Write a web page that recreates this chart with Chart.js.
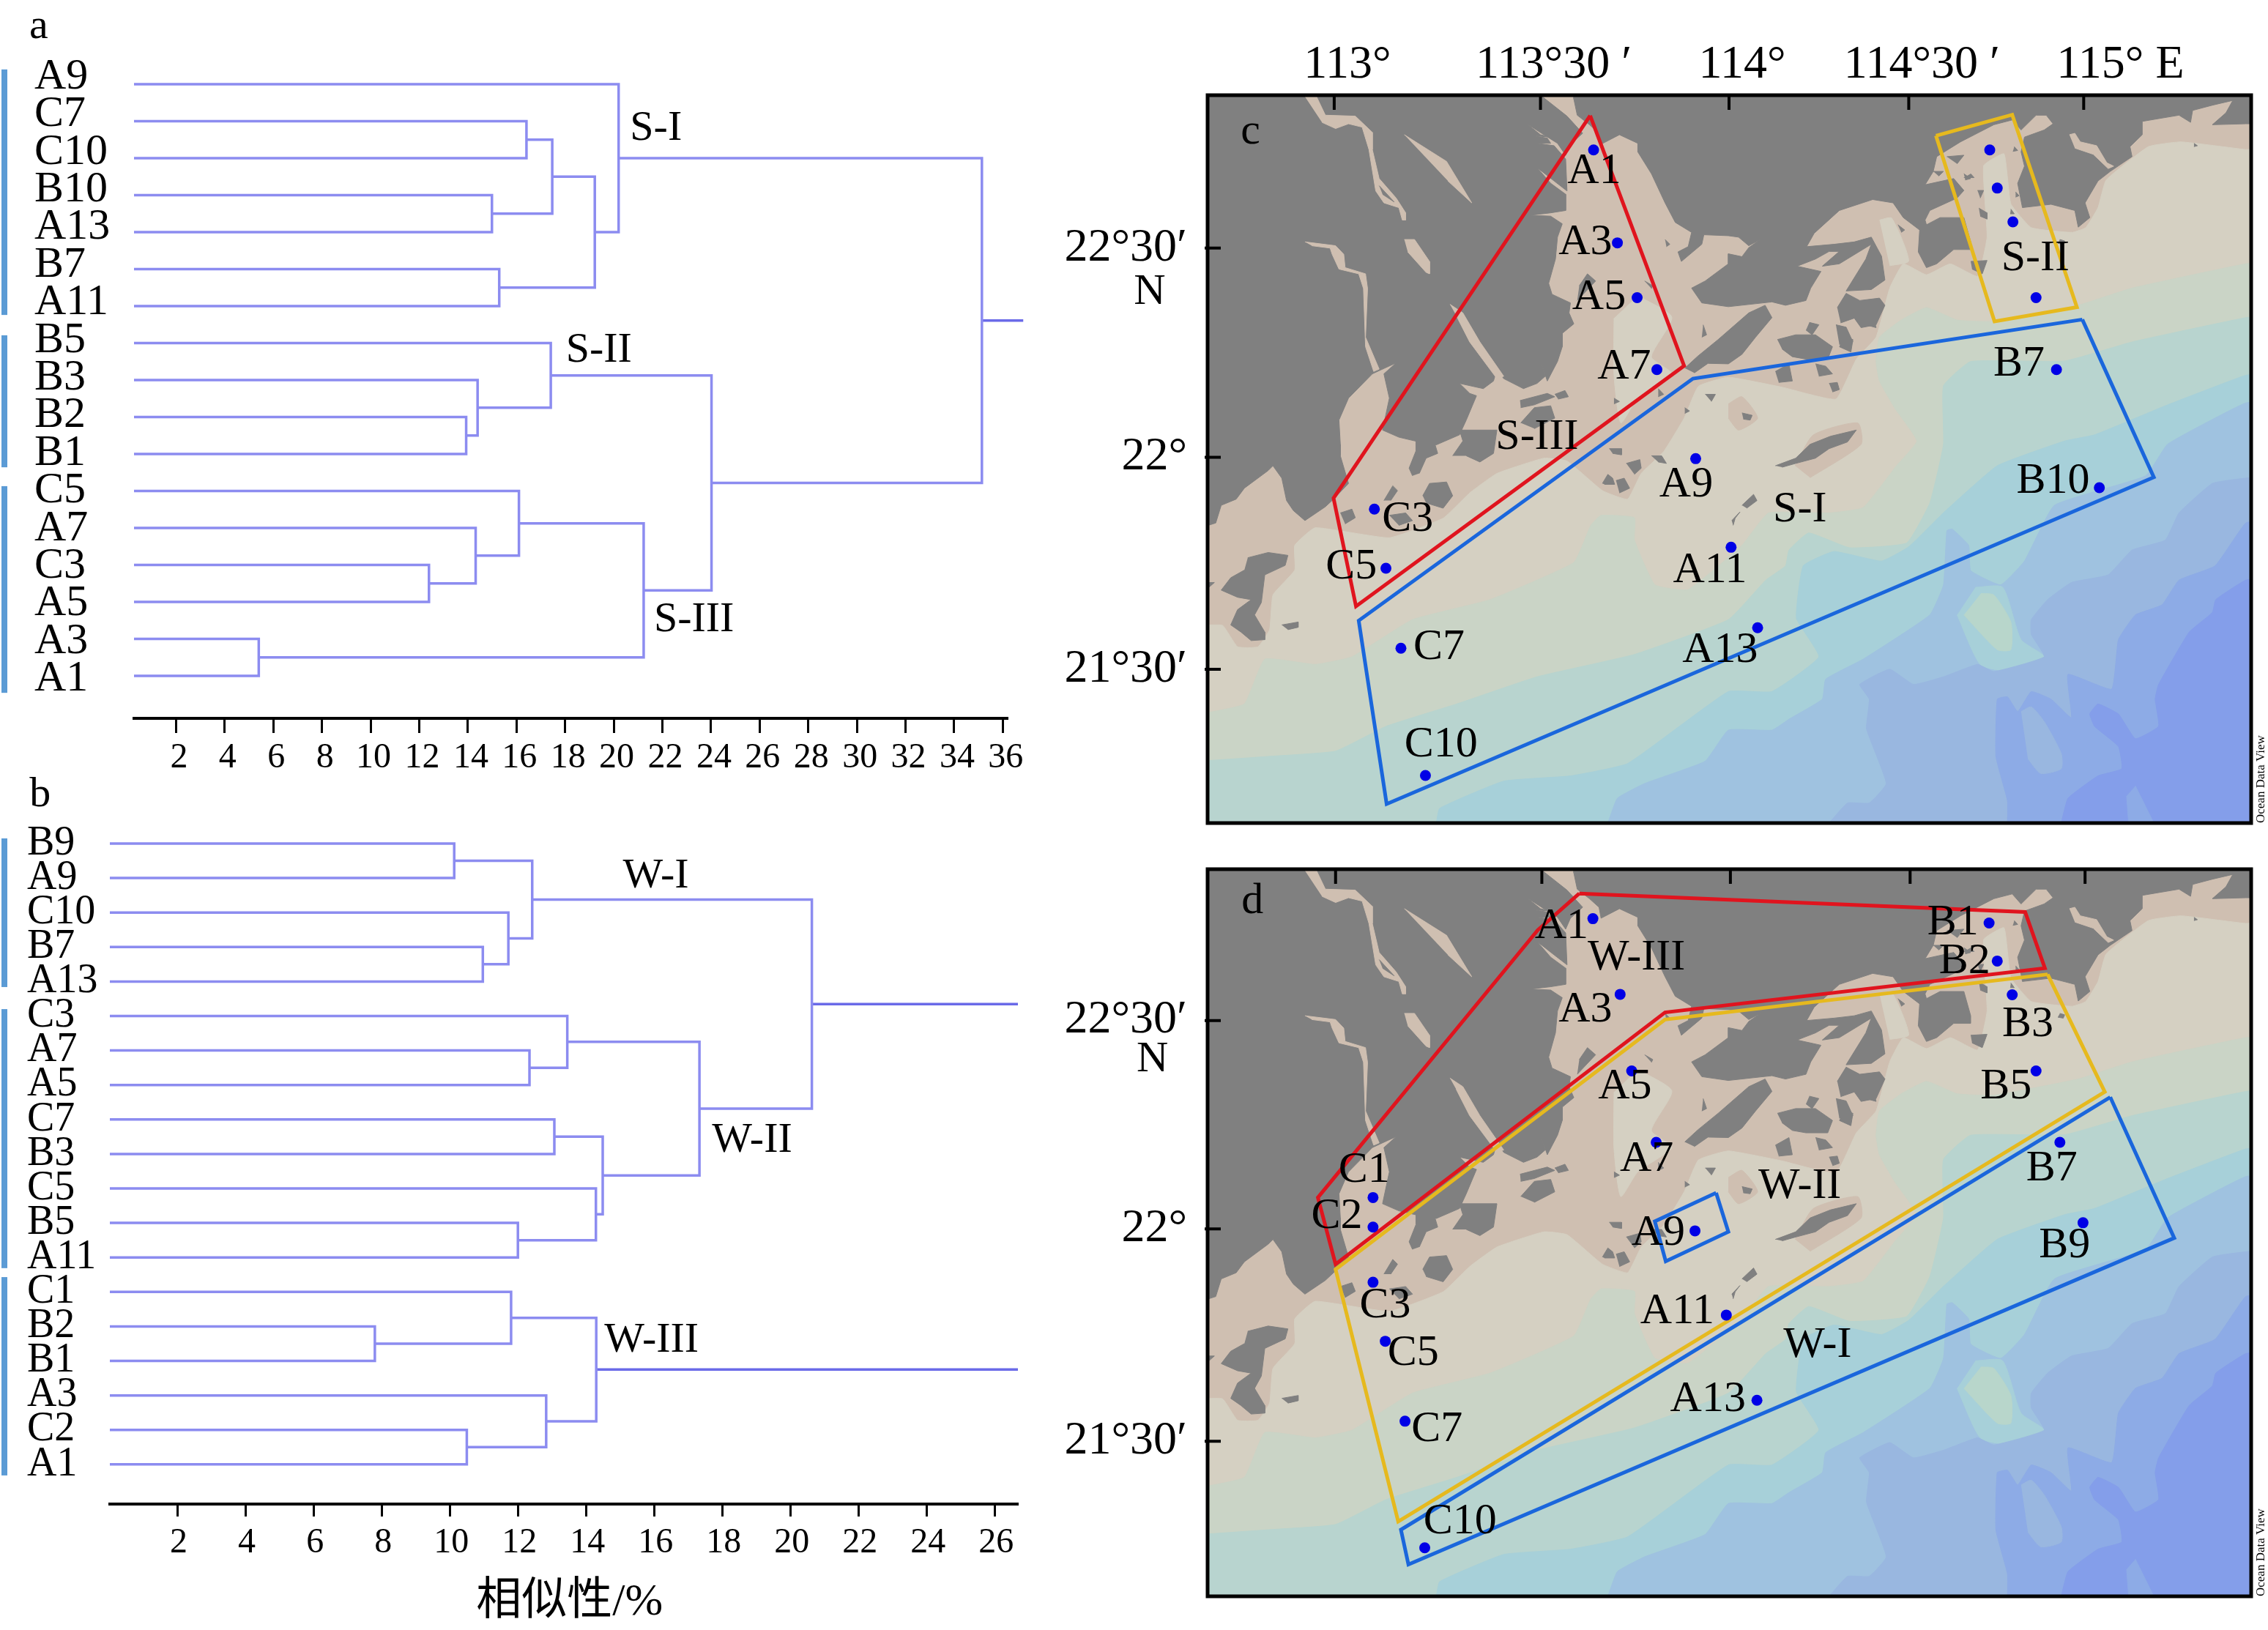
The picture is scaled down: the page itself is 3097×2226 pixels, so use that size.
<!DOCTYPE html>
<html>
<head>
<meta charset="utf-8">
<title>Cluster dendrograms and station maps</title>
<script src="https://cdn.jsdelivr.net/npm/chart.js@4/dist/chart.umd.min.js"></script>
<style>
  html, body { margin: 0; padding: 0; background: #fff; }
  #page { position: relative; width: 3097px; height: 2226px; overflow: hidden; }
  canvas { position: absolute; display: block; }
</style>
</head>
<body>
<div id="page">
  <canvas id="dendroA" width="1440" height="1060" style="left:0;top:0;width:1440px;height:1060px"></canvas>
  <canvas id="dendroB" width="1440" height="1166" style="left:0;top:1060px;width:1440px;height:1166px"></canvas>
  <canvas id="mapC" width="1657" height="1160" style="left:1440px;top:0;width:1657px;height:1160px"></canvas>
  <canvas id="mapD" width="1657" height="1066" style="left:1440px;top:1160px;width:1657px;height:1066px"></canvas>
</div>
<script>
// Dendrogram a
const leavesA = ['A9','C7','C10','B10','A13','B7','A11','B5','B3','B2','B1','C5','A7','C3','A5','A3','A1'];
const labelRowsA = [-0.2,0.82,1.84,2.85,3.87,4.89,5.91,6.93,7.94,8.96,9.98,11,12.02,13.03,14.05,15.07,16.09];
// merge: [child, child, similarity]; child >= 0 is a leaf row, child < 0 is merge number -child (1-based)
const mergesA = [
  [1, 2, 16.41], [3, 4, 14.99], [-1, -2, 17.47], [5, 6, 15.29], [-3, -4, 19.22], [0, -5, 20.2],
  [9, 10, 13.93], [8, -7, 14.4], [7, -8, 17.41],
  [13, 14, 12.4], [12, -10, 14.32], [11, -11, 16.1], [15, 16, 5.4], [-12, -13, 21.23],
  [-9, -14, 24.02], [-6, -15, 35.14]
];
const stemsA = [[-16, 36.84]];
const ticksA = [2,4,6,8,10,12,14,16,18,20,22,24,26,28,30,32,34,36];
const groupsA = [[-0.4, 6.24], [6.79, 10.36], [10.87, 16.46]];
const notesA = [['S-I', 20.67, 1.2], ['S-II', 18.03, 7.2], ['S-III', 21.65, 14.5], ['a', -4.04, -1.56]];

// Dendrogram b
const leavesB = ['B9','A9','C10','B7','A13','C3','A7','A5','C7','B3','C5','B5','A11','C1','B2','B1','A3','C2','A1'];
const labelRowsB = [0,1,2,3,4,5,6,7,8,9,10,11,12,13,14,15,16,17,18];
const mergesB = [
  [0, 1, 10.13], [3, 4, 10.97], [2, -2, 11.72], [-1, -3, 12.42],
  [6, 7, 12.34], [5, -5, 13.45], [8, 9, 13.07], [11, 12, 12.0], [10, -8, 14.29], [-7, -9, 14.49], [-6, -10, 17.33],
  [-4, -11, 20.63],
  [14, 15, 7.8], [13, -13, 11.8], [17, 18, 10.5], [16, -15, 12.83], [-14, -16, 14.3]
];
const stemsB = [[-12, 26.68], [-17, 26.68]];
const ticksB = [2,4,6,8,10,12,14,16,18,20,22,24,26];
const groupsB = [[-0.15, 4.16], [4.8, 12.31], [12.57, 18.32]];
const notesB = [['W-I', 15.08, 0.96], ['W-II', 17.7, 8.62], ['W-III', 14.54, 14.4], ['b', -2.34, -1.4]];

// Map axes
const lonTicksC = [196, 499, 776, 1040, 1297];
const lonTicksD = [198, 501, 778, 1042, 1299];
const lonLabels = ['113°', '113°30 ′', '114°', '114°30 ′', '    115° E'];
const latTicksC = [333, 772, 1217];
const latTicksD = [330, 768, 1214];
const latLabels = ['22°30′', '22°', '21°30′'];

// Sea depth bands, painted shallow to deep
const bandColors = ['#d5d0c2', '#cad4c6', '#b8d4cf', '#a7d0d9', '#9fc2e0', '#99b7e0', '#8dabe6', '#849eea'];
const bandEdges = [
  [[0,1125],[32,1125],[54,1170],[84,1170],[101,1134],[106,1061],[138,1009],[138,957],[168,920],[277,941],[356,900],[395,847],[435,806],[504,774],[538,780],[590,842],[627,860],[647,806],[680,760],[710,690],[731,623],[775,604],[854,625],[933,650],[963,566],[992,520],[1012,417],[1032,366],[1066,389],[1101,366],[1141,392],[1155,310],[1150,160],[1180,135],[1190,240],[1220,290],[1280,300],[1300,290],[1318,248],[1330,190],[1392,120],[1440,110],[1535,126]],
  [[0,1311],[64,1290],[94,1196],[168,1207],[222,1191],[311,1113],[425,1071],[548,993],[573,915],[588,894],[637,899],[637,946],[667,1040],[716,1050],[795,957],[834,889],[923,889],[973,878],[1022,790],[1052,738],[1020,670],[997,612],[992,571],[997,520],[1029,484],[1066,458],[1111,484],[1165,487],[1289,453],[1368,417],[1535,366]],
  [[0,1410],[100,1400],[198,1389],[272,1337],[376,1290],[494,1233],[637,1186],[775,1113],[830,1030],[859,1000],[864,967],[893,931],[953,962],[1037,952],[1071,868],[1091,745],[1091,622],[1131,571],[1269,570],[1368,530],[1535,479]],
  [[346,1540],[351,1509],[445,1452],[543,1441],[627,1415],[775,1264],[839,1264],[908,1191],[875,1110],[885,1000],[930,970],[1000,990],[1040,960],[1090,890],[1170,790],[1269,738],[1313,725],[1417,664],[1535,600]],
  [[598,1540],[612,1488],[652,1457],[741,1410],[775,1345],[839,1345],[864,1322],[913,1280],[918,1238],[973,1196],[1071,1103],[1091,1040],[1096,926],[1104,923],[1128,957],[1131,1010],[1175,1040],[1210,990],[1254,873],[1388,811],[1420,745],[1491,689],[1535,658]],
  [[923,1540],[950,1498],[982,1498],[1007,1457],[978,1342],[982,1280],[968,1249],[1012,1217],[1047,1249],[1091,1233],[1141,1207],[1165,1222],[1239,1191],[1220,1144],[1220,1113],[1244,1071],[1279,1035],[1333,1019],[1368,967],[1417,946],[1437,889],[1486,827],[1535,816]],
  [[1185,1540],[1185,1493],[1168,1400],[1170,1280],[1185,1275],[1200,1306],[1220,1264],[1249,1280],[1279,1319],[1274,1228],[1338,1259],[1348,1155],[1373,1103],[1412,1082],[1437,1030],[1490,1000],[1535,910]],
  [[1264,1540],[1274,1488],[1318,1441],[1353,1426],[1348,1379],[1313,1337],[1306,1311],[1318,1290],[1348,1311],[1373,1363],[1407,1337],[1402,1280],[1407,1249],[1452,1139],[1486,1098],[1491,1071],[1535,1030]]
];
const estuaryLobe = [[642,433],[692,478],[662,561],[692,597],[642,648],[617,700],[607,600],[607,480]];
const bayLobe = [[997,274],[1015,270],[1040,360],[1012,370]];
const tanPatches = [
  [[873,790],[900,725],[965,700],[970,745],[895,815]],
  [[775,660],[795,645],[818,690],[790,715],[775,690]]
];
const shoalOuter = [[1138,1045],[1178,1045],[1205,1155],[1239,1191],[1185,1220],[1145,1207],[1111,1103]];
const shoalInner = [[1146,1058],[1165,1061],[1190,1118],[1190,1176],[1170,1176],[1121,1103]];
const fingerBand6 = [[1205,1306],[1220,1296],[1239,1327],[1264,1394],[1264,1426],[1234,1436],[1215,1405]];
const fingerBand7 = [[1373,1462],[1400,1540],[1363,1540],[1360,1483]];

// Land and islands
const landWest = [[0,0],[499,0],[499,12],[538,56],[561,92],[543,115],[536,138],[524,113],[504,95],[479,72],[499,95],[514,100],[487,97],[509,102],[514,113],[494,113],[519,118],[536,146],[538,213],[519,192],[494,164],[514,197],[536,220],[536,254],[514,259],[484,264],[514,266],[531,282],[524,310],[521,356],[511,407],[516,430],[543,448],[541,469],[548,492],[531,512],[531,540],[524,571],[509,612],[499,569],[506,602],[494,617],[474,628],[445,607],[435,587],[430,612],[415,628],[380,617],[395,638],[405,643],[390,694],[380,725],[346,746],[321,740],[291,730],[267,715],[277,648],[269,597],[287,574],[264,589],[252,597],[217,648],[203,694],[205,745],[205,769],[217,827],[195,860],[183,876],[153,905],[136,884],[126,863],[119,816],[106,790],[99,800],[64,837],[52,860],[30,873],[22,910],[0,920]];
const landEast = [[548,0],[548,20],[553,54],[571,74],[585,92],[588,115],[615,95],[642,113],[642,131],[662,177],[682,238],[697,279],[721,300],[716,330],[701,341],[706,361],[736,325],[739,305],[775,307],[790,310],[805,328],[822,315],[805,332],[795,351],[775,345],[775,366],[741,402],[721,417],[736,448],[775,456],[839,446],[859,453],[889,443],[896,417],[911,382],[876,371],[903,356],[923,340],[938,340],[913,371],[938,366],[985,325],[977,356],[948,423],[985,420],[1005,400],[1000,350],[985,310],[960,320],[930,325],[890,330],[901,302],[938,254],[987,231],[1017,238],[1032,269],[1056,295],[1054,341],[1066,374],[1081,366],[1106,336],[1131,336],[1131,320],[1121,269],[1086,269],[1066,284],[1064,274],[1071,254],[1111,228],[1121,212],[1106,187],[1064,200],[1076,172],[1081,141],[1116,110],[1165,74],[1192,64],[1205,85],[1227,54],[1242,54],[1252,72],[1239,85],[1210,100],[1205,131],[1210,161],[1200,197],[1207,248],[1249,241],[1284,254],[1289,289],[1306,269],[1299,238],[1318,192],[1336,172],[1368,141],[1365,120],[1383,95],[1383,67],[1437,54],[1454,69],[1457,44],[1486,33],[1516,23],[1506,49],[1486,74],[1535,72],[1550,72],[1550,0]];
const islands = [
  [[711,585],[730,560],[760,525],[805,469],[829,453],[839,479],[815,520],[795,556],[775,576],[745,575],[725,595]],
  [[847,525],[874,515],[903,515],[928,540],[921,566],[889,566],[869,561],[854,545]],
  [[935,458],[948,428],[968,443],[997,438],[1005,453],[992,494],[970,500],[960,480],[940,490]],
  [[933,494],[948,499],[958,530],[938,535]],
  [[844,592],[864,576],[869,612],[849,615]],
  [[903,576],[918,581],[928,597],[908,602]],
  [[923,617],[935,615],[938,630],[928,635]],
  [[311,811],[306,795],[316,759],[316,730],[341,730],[348,764],[331,774],[321,806]],
  [[370,769],[385,738],[380,715],[435,715],[430,764],[410,782],[390,769]],
  [[469,653],[509,638],[520,645],[490,662],[470,668]],
  [[470,700],[490,668],[514,664],[520,690],[490,712]],
  [[520,640],[535,632],[540,645],[525,650]],
  [[326,853],[336,827],[361,824],[370,853],[356,879],[331,868]],
  [[269,863],[282,832],[289,842],[279,863]],
  [[205,889],[222,881],[227,899],[212,912]],
  [[277,894],[301,889],[311,905],[291,915]],
  [[69,983],[99,972],[128,978],[124,999],[94,1019],[89,1077],[79,1103],[94,1139],[94,1155],[74,1157],[59,1139],[44,1124],[54,1092],[74,1071],[54,1066],[30,1051],[44,1025],[64,1009]],
  [[119,1124],[143,1118],[143,1129],[128,1134]],
  [[12,1035],[20,1035],[12,1045]],
  [[590,827],[598,808],[605,816],[608,829],[593,829]],
  [[610,821],[622,816],[630,837],[615,847]],
  [[625,785],[645,777],[647,795],[637,808]],
  [[600,754],[618,754],[618,767],[605,764]],
  [[662,769],[677,769],[684,785],[672,782]],
  [[844,790],[874,774],[895,745],[925,728],[963,715],[950,740],[923,754],[903,774],[874,785],[854,793]],
  [[795,873],[812,850],[817,863],[802,879]],
  [[780,905],[792,887],[785,900],[782,915]],
  [[795,679],[810,684],[807,694],[797,692]],
  [[556,412],[568,387],[580,402],[553,443]],
  [[652,402],[664,412],[662,418]],
  [[738,494],[743,515],[736,520]],
  [[682,315],[689,325],[684,330]],
  [[1143,249],[1155,259],[1155,272],[1145,266]],
  [[1131,177],[1136,185],[1121,185]],
  [[1096,141],[1121,138],[1111,156]],
  [[1131,361],[1155,359],[1148,387],[1133,377]],
  [[1024,284],[1034,295],[1029,300]],
  [[711,668],[718,675],[711,680]],
  [[672,628],[680,640],[672,645]],
  [[607,648],[615,655],[607,660]],
  [[741,640],[756,640],[750,655]],
  [[894,489],[908,494],[898,515],[889,505]],
  [[973,458],[987,468],[992,500],[977,494]],
  [[943,520],[958,525],[955,551],[938,540]],
  [[1076,172],[1091,172],[1084,182]],
  [[1121,177],[1131,187],[1123,190]],
  [[1141,212],[1150,212],[1145,228]],
  [[1195,120],[1200,128],[1193,130]],
  [[1197,215],[1202,223],[1197,226]],
  [[1190,251],[1195,261],[1189,261]],
  [[1262,315],[1269,318],[1267,325],[1259,323]],
  [[1459,113],[1464,118],[1459,120]]
];
const rivers = [
  [[146,0],[165,0],[183,54],[227,56],[252,90],[252,126],[262,187],[287,228],[301,259],[301,274],[296,274],[291,248],[269,238],[257,213],[247,126],[237,79],[217,72],[198,82],[178,69]],
  [[299,95],[361,151],[398,238],[363,192]],
  [[299,315],[314,315],[336,361],[336,387],[331,384],[304,341]],
  [[153,320],[198,328],[210,346],[212,374],[242,387],[245,418],[242,520],[262,587],[254,592],[242,540],[239,418],[232,387],[203,377],[193,346],[190,333],[163,328]],
  [[366,451],[385,469],[410,530],[445,602],[435,607],[395,530],[375,474]],
  [[1276,95],[1284,92],[1292,110],[1316,118],[1331,154],[1341,161],[1333,166],[1311,136],[1284,123]]
];
const riverHole = [[262,202],[284,236],[267,220]];

// Panel c: stations and zones
const stationsC = [[577,127],[612,322],[641,437],[670,588],[727,775],[779,961],[818,1130],[255,881],[272,1005],[294,1173],[330,1440],[1257,588],[1320,836],[1159,127],[1170,207],[1193,278],[1227,437]];
const labelsC = [['A1',578,172],['A3',565,322],['A5',585,436],['A7',622,583],['A9',713,830],['A11',748,1010],['A13',763,1178],['C3',304,902],['C5',221,1003],['C7',350,1172],['C10',353,1376],['B7',1202,577],['B10',1252,822],['S-I',880,882],['S-II',1226,355],['S-III',494,731],['c',73,90],['N',-75,426]];
const zoneRedC = [[572,55],[710,580],[228,1085],[195,858]];
const zoneYellowC = [[1080,97],[1192,53],[1287,457],[1166,487]];
const zoneBlueC = [[1295,483],[1400,814],[273,1500],[232,1115],[723,607]];

// Panel d: stations and zones
const stationsD = [[576,116],[616,275],[633,436],[669,586],[726,772],[772,949],[817,1128],[253,702],[253,764],[253,880],[271,1004],[300,1172],[329,1438],[1158,125],[1170,205],[1192,276],[1227,436],[1262,586],[1296,755]];
const labelsD = [['A1',530,133],['A3',565,308],['A5',623,470],['A7',655,622],['A9',672,777],['A11',700,942],['A13',745,1127],['C1',240,645],['C2',200,742],['C3',271,930],['C5',312,1030],['C7',347,1190],['C10',381,1384],['B1',1105,125],['B2',1122,207],['B3',1215,338],['B5',1183,470],['B7',1250,642],['B9',1269,803],['W-I',906,1013],['W-II',880,678],['W-III',640,198],['d',76,80],['N',-71,412]];
const zoneRedD = [[556,63],[1211,102],[1240,220],[682,313],[198,842],[172,702],[495,140]];
const zoneYellowD = [[1244,233],[1328,480],[290,1383],[198,853],[682,328]];
const zoneBlueD = [[1336,491],[1430,787],[305,1473],[294,1400]];
const zoneBlueSmallD = [[757,692],[775,774],[683,836],[667,752]];

const SERIF = '"Liberation Serif", "Noto Sans CJK SC", serif';
const LINE_BLUE = '#8c8cf0';
const STEM_BLUE = '#6a6ae8';
const INK = '#000000';
const LAND = '#808080';
const TAN = '#cfbfb1';

Chart.defaults.font.family = SERIF;
Chart.defaults.color = INK;

// text placed in data coordinates
const notesPlugin = {
  id: 'notes',
  afterDatasetsDraw(chart, args, opts) {
    const ctx = chart.ctx;
    ctx.save();
    ctx.fillStyle = INK;
    ctx.textAlign = opts.align || 'center';
    ctx.textBaseline = 'middle';
    ctx.font = opts.size + 'px ' + SERIF;
    (opts.items || []).forEach(n => {
      ctx.fillText(n[0], chart.scales.x.getPixelForValue(n[1]), chart.scales.y.getPixelForValue(n[2]));
    });
    ctx.restore();
  }
};

// the blue bars at the left of a dendrogram
const groupBarsPlugin = {
  id: 'groupBars',
  afterDatasetsDraw(chart, args, opts) {
    if (!opts.spans) return;
    const ctx = chart.ctx, y = chart.scales.y;
    ctx.save();
    ctx.fillStyle = '#5b9bd5';
    opts.spans.forEach(s => {
      const top = y.getPixelForValue(s[0]), bottom = y.getPixelForValue(s[1]);
      ctx.fillRect(2, top, 8, bottom - top);
    });
    ctx.restore();
  }
};

// frame, inward ticks and small print of a map
const mapFramePlugin = {
  id: 'mapFrame',
  afterDatasetsDraw(chart, args, opts) {
    if (!opts.enabled) return;
    const ctx = chart.ctx, a = chart.chartArea;
    ctx.save();
    ctx.strokeStyle = INK;
    ctx.lineWidth = 5;
    ctx.strokeRect(a.left, a.top, a.right - a.left, a.bottom - a.top);
    ctx.lineWidth = 4;
    ctx.beginPath();
    chart.scales.x.ticks.forEach(t => {
      const px = chart.scales.x.getPixelForValue(t.value);
      ctx.moveTo(px, a.top);
      ctx.lineTo(px, a.top + 20);
    });
    chart.scales.y.ticks.forEach(t => {
      const py = chart.scales.y.getPixelForValue(t.value);
      ctx.moveTo(a.left - 4, py);
      ctx.lineTo(a.left + 18, py);
    });
    ctx.stroke();
    ctx.translate(a.right + 14, a.bottom);
    ctx.rotate(-Math.PI / 2);
    ctx.fillStyle = INK;
    ctx.font = '17px ' + SERIF;
    ctx.textAlign = 'left';
    ctx.textBaseline = 'middle';
    ctx.fillText('Ocean Data View', 0, 0);
    ctx.restore();
  }
};

Chart.register(notesPlugin, groupBarsPlugin, mapFramePlugin);

function toPoints(list) {
  return list.map(p => ({ x: p[0], y: p[1] }));
}

// turn a merge table into elbow segments
function dendrogramSegments(merges, stems, firstX) {
  const nodes = [];
  const segments = [];
  const locate = c => c >= 0 ? { x: firstX, y: c } : nodes[-c - 1];
  merges.forEach(m => {
    const a = locate(m[0]), b = locate(m[1]), h = m[2];
    segments.push({ points: [{ x: a.x, y: a.y }, { x: h, y: a.y }, { x: h, y: b.y }, { x: b.x, y: b.y }], color: LINE_BLUE });
    nodes.push({ x: h, y: (a.y + b.y) / 2 });
  });
  stems.forEach(s => {
    const n = locate(s[0]);
    segments.push({ points: [{ x: n.x, y: n.y }, { x: s[1], y: n.y }], color: STEM_BLUE });
  });
  return segments;
}

function drawDendrogram(id, cfg) {
  const segs = dendrogramSegments(cfg.merges, cfg.stems, cfg.xMin);
  new Chart(document.getElementById(id), {
    type: 'scatter',
    data: {
      datasets: segs.map(s => ({
        data: s.points,
        showLine: true,
        borderColor: s.color,
        borderWidth: 3.5,
        pointRadius: 0,
        tension: 0,
        clip: false
      }))
    },
    options: {
      responsive: false,
      animation: false,
      devicePixelRatio: 1,
      layout: { padding: cfg.padding },
      plugins: {
        legend: { display: false },
        tooltip: { enabled: false },
        notes: { items: cfg.notes, size: 58, align: 'left' },
        groupBars: { spans: cfg.groups },
        mapFrame: { enabled: false }
      },
      scales: {
        x: {
          type: 'linear',
          min: cfg.xMin,
          max: cfg.xMax,
          afterBuildTicks: s => { s.ticks = cfg.ticks.map(v => ({ value: v })); },
          afterFit: s => { s.height = cfg.xHeight; s.paddingLeft = 0; s.paddingRight = 0; },
          grid: { display: true, drawOnChartArea: false, drawTicks: true, tickLength: cfg.tickLength, tickColor: INK, tickWidth: 3 },
          border: { display: true, color: INK, width: 4 },
          ticks: { font: { size: 48 }, color: INK, padding: cfg.tickPad, labelOffset: cfg.labelOffset, autoSkip: false, maxRotation: 0, callback: v => String(v) },
          title: cfg.title ? { display: true, text: cfg.title, font: { size: 62 }, color: INK, padding: { top: cfg.titleTop, bottom: 0 } } : { display: false }
        },
        y: {
          type: 'linear',
          reverse: true,
          min: cfg.yMin,
          max: cfg.yMax,
          afterBuildTicks: s => { s.ticks = cfg.labelRows.map(v => ({ value: v })); },
          afterFit: s => { s.width = cfg.yWidth; s.paddingTop = 0; s.paddingBottom = 0; },
          grid: { display: false, drawTicks: false },
          border: { display: false },
          ticks: { font: { size: cfg.leafSize }, color: INK, crossAlign: 'far', padding: 0, autoSkip: false, callback: (v, i) => cfg.leaves[i] }
        }
      }
    }
  });
}

function polygonSet(points, color, tension) {
  return { data: toPoints(points), showLine: true, fill: 'shape', backgroundColor: color, borderColor: color, borderWidth: 1, pointRadius: 0, tension: tension || 0 };
}

function zoneSet(points, color) {
  return { data: toPoints(points.concat([points[0]])), showLine: true, fill: false, borderColor: color, borderWidth: 5, pointRadius: 0, tension: 0 };
}

function drawMap(id, cfg) {
  const layers = [];
  layers.push(polygonSet([[0,0],[1560,0],[1560,1560],[0,1560]], TAN));
  layers.push(polygonSet(bayLobe, bandColors[0], 0.2));
  bandEdges.forEach((edge, i) => {
    const first = edge[0], last = edge[edge.length - 1];
    const closing = [[1560, last[1]], [1560, 1560], [first[0], 1560]];
    layers.push(polygonSet(edge.concat(closing), bandColors[i], 0.12));
    if (i === 0) {
      layers.push(polygonSet(estuaryLobe, bandColors[0], 0.2));
      tanPatches.forEach(p => layers.push(polygonSet(p, TAN, 0.2)));
    }
    if (i === 4) {
      layers.push(polygonSet(shoalOuter, bandColors[3], 0.2));
      layers.push(polygonSet(shoalInner, '#b8d6cb', 0.2));
    }
    if (i === 6) {
      layers.push(polygonSet(fingerBand6, bandColors[5], 0.2));
    }
    if (i === 7) {
      layers.push(polygonSet(fingerBand7, bandColors[6]));
    }
  });
  layers.push(polygonSet(landWest, LAND));
  layers.push(polygonSet(landEast, LAND));
  islands.forEach(p => layers.push(polygonSet(p, LAND)));
  rivers.forEach(p => layers.push(polygonSet(p, TAN)));
  layers.push(polygonSet(riverHole, LAND));
  cfg.zones.forEach(z => layers.push(zoneSet(z[0], z[1])));
  layers.push({ data: toPoints(cfg.stations), pointRadius: 7.5, pointBackgroundColor: '#0000e6', pointBorderWidth: 0, showLine: false });
  layers.forEach((d, i) => { d.order = layers.length - i; });

  new Chart(document.getElementById(id), {
    type: 'scatter',
    data: { datasets: layers },
    options: {
      responsive: false,
      animation: false,
      devicePixelRatio: 1,
      layout: { padding: cfg.padding },
      plugins: {
        legend: { display: false },
        tooltip: { enabled: false },
        notes: { items: cfg.labels, size: 60 },
        groupBars: {},
        mapFrame: { enabled: true }
      },
      scales: {
        x: {
          type: 'linear',
          position: 'top',
          min: 10,
          max: 1543,
          afterBuildTicks: s => { s.ticks = cfg.lonTicks.map(v => ({ value: v })); },
          afterFit: s => { s.height = cfg.xHeight; s.paddingLeft = 0; s.paddingRight = 0; },
          grid: { display: false },
          border: { display: false },
          ticks: {
            display: cfg.showLon,
            font: { size: 64 },
            color: INK,
            padding: -6,
            labelOffset: 18,
            autoSkip: false,
            maxRotation: 0,
            callback: v => lonLabels[cfg.lonTicks.indexOf(v)]
          }
        },
        y: {
          type: 'linear',
          reverse: true,
          min: 12,
          max: 1540,
          afterBuildTicks: s => { s.ticks = cfg.latTicks.map(v => ({ value: v })); },
          afterFit: s => { s.width = 209; s.paddingTop = 0; s.paddingBottom = 0; },
          grid: { display: false },
          border: { display: false },
          ticks: { font: { size: 64 }, color: INK, padding: 20, autoSkip: false, callback: v => latLabels[cfg.latTicks.indexOf(v)] }
        }
      }
    }
  });
}

document.addEventListener('DOMContentLoaded', function() {
  drawDendrogram('dendroA', {
    leaves: leavesA, labelRows: labelRowsA, merges: mergesA, stems: stemsA, ticks: ticksA, groups: groupsA, notes: notesA,
    xMin: 0.27, xMax: 36.2, yMin: -1.09, yMax: 17.15,
    padding: { top: 60, right: 64, left: 47, bottom: 0 },
    xHeight: 79, tickLength: 20, tickPad: 6, labelOffset: 4, yWidth: 136, leafSize: 60
  });
  drawDendrogram('dendroB', {
    leaves: leavesB, labelRows: labelRowsB, merges: mergesB, stems: stemsB, ticks: ticksB, groups: groupsB, notes: notesB,
    xMin: 0.02, xMax: 26.68, yMin: -1.104, yMax: 19.15,
    padding: { top: 40, right: 50, left: 37, bottom: 0 },
    xHeight: 172, tickLength: 17, tickPad: 8, labelOffset: 2, yWidth: 113, leafSize: 56,
    title: '\u00a0相似性/%', titleTop: 22
  });
  drawMap('mapC', {
    stations: stationsC, labels: labelsC,
    zones: [[zoneBlueC, '#1a66dc'], [zoneRedC, '#e0141e'], [zoneYellowC, '#e6b91e']],
    lonTicks: lonTicksC, latTicks: latTicksC, showLon: true, xHeight: 130,
    padding: { top: 0, right: 23, left: 0, bottom: 36 }
  });
  drawMap('mapD', {
    stations: stationsD, labels: labelsD,
    zones: [[zoneBlueD, '#1a66dc'], [zoneBlueSmallD, '#1a66dc'], [zoneRedD, '#e0141e'], [zoneYellowD, '#e6b91e']],
    lonTicks: lonTicksD, latTicks: latTicksD, showLon: false, xHeight: 27,
    padding: { top: 0, right: 23, left: 0, bottom: 46 }
  });
});
</script>
</body>
</html>
